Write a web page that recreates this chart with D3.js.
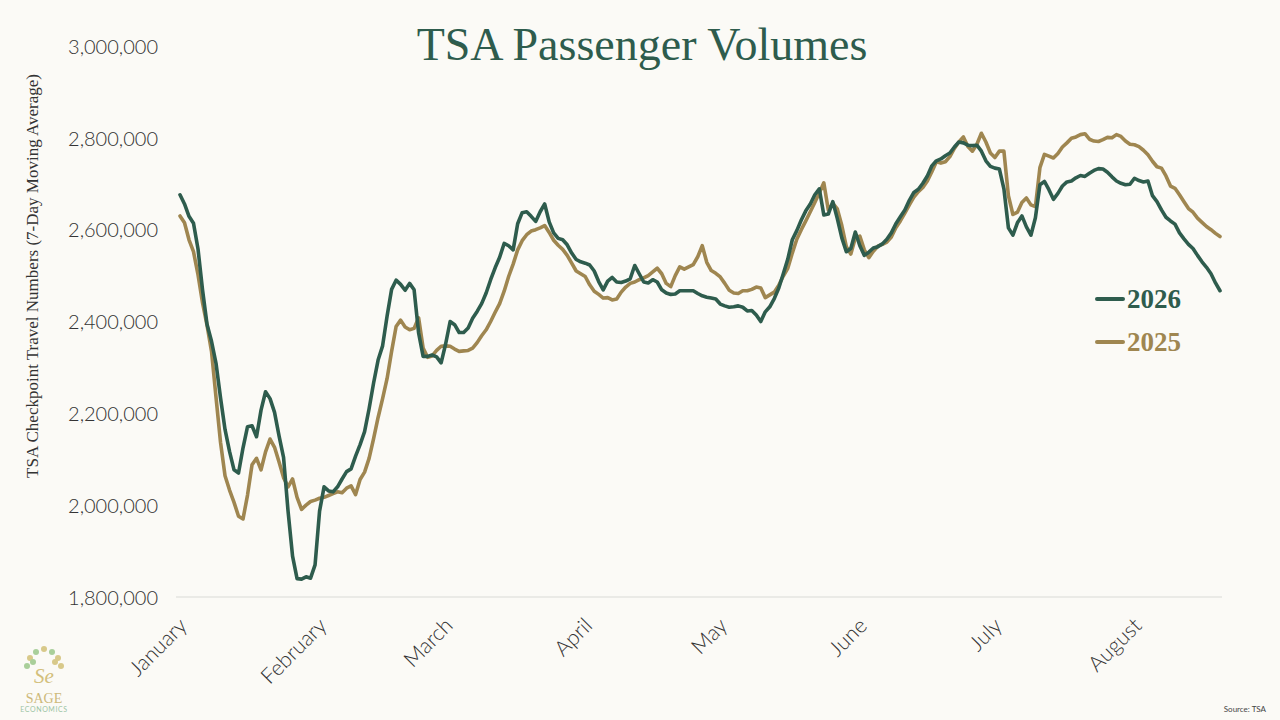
<!DOCTYPE html>
<html>
<head>
<meta charset="utf-8">
<script src="https://cdn.jsdelivr.net/npm/d3@7"></script>
<style>
  html, body { margin: 0; padding: 0; background: #fbfaf6; }
  svg { display: block; }
</style>
</head>
<body>
<div id="chart"></div>
<script>
// Daily 7-day moving averages, in thousands of passengers, starting Jan 1
const startDate = new Date(2026, 0, 1);

const tsa2026 = [
  2676, 2656, 2629, 2614, 2558, 2469, 2394, 2357, 2309, 2234,
  2165, 2117, 2077, 2070, 2125, 2171, 2173, 2149, 2207, 2247,
  2232, 2202, 2151, 2104, 1987, 1889, 1840, 1839, 1844, 1841,
  1870, 1987, 2040, 2031, 2029, 2040, 2057, 2073, 2079, 2107,
  2132, 2160, 2210, 2266, 2316, 2347, 2412, 2470, 2490, 2481,
  2468, 2483, 2469, 2375, 2324, 2324, 2327, 2323, 2310, 2351,
  2400, 2393, 2376, 2376, 2386, 2407, 2422, 2439, 2462, 2491,
  2517, 2540, 2570, 2565, 2556, 2613, 2637, 2639, 2629, 2618,
  2639, 2656, 2617, 2593, 2581, 2578, 2567, 2549, 2535, 2530,
  2527, 2523, 2510, 2487, 2469, 2488, 2496, 2486, 2485, 2488,
  2493, 2522, 2504, 2486, 2484, 2491, 2486, 2469, 2462, 2459,
  2460, 2467, 2467, 2467, 2467, 2461, 2456, 2453, 2451, 2449,
  2438, 2434, 2431, 2432, 2434, 2431, 2423, 2424, 2414, 2400,
  2421, 2432, 2450, 2473, 2504, 2536, 2578, 2598, 2621, 2641,
  2656, 2676, 2689, 2632, 2634, 2661, 2624, 2582, 2552, 2559,
  2595, 2565, 2544, 2551, 2560, 2563, 2569, 2579, 2593, 2613,
  2628, 2643, 2664, 2681, 2688, 2701, 2717, 2739, 2750, 2754,
  2761, 2767, 2780, 2791, 2789, 2784, 2783, 2784, 2771, 2750,
  2738, 2734, 2732, 2689, 2604, 2588, 2615, 2630, 2606, 2588,
  2626, 2698, 2705, 2687, 2666, 2679, 2695, 2704, 2706, 2713,
  2718, 2716, 2723, 2729, 2733, 2732, 2725, 2715, 2706, 2701,
  2698, 2699, 2712, 2707, 2704, 2706, 2674, 2661, 2643, 2627,
  2619, 2612, 2593, 2580, 2568, 2559, 2544, 2530, 2518, 2504,
  2484, 2467
];

const tsa2025 = [
  2630, 2615, 2578, 2552, 2502, 2441, 2392, 2335, 2235, 2137,
  2064, 2033, 2006, 1976, 1970, 2022, 2088, 2102, 2077, 2116,
  2144, 2126, 2094, 2060, 2040, 2057, 2017, 1991, 2000, 2008,
  2011, 2015, 2017, 2021, 2025, 2029, 2027, 2037, 2042, 2023,
  2056, 2072, 2102, 2145, 2191, 2232, 2276, 2335, 2389, 2403,
  2388, 2382, 2385, 2408, 2342, 2322, 2325, 2337, 2346, 2347,
  2346, 2340, 2335, 2336, 2337, 2342, 2354, 2369, 2382, 2400,
  2420, 2439, 2466, 2498, 2525, 2556, 2576, 2589, 2597, 2600,
  2604, 2609, 2594, 2577, 2566, 2557, 2544, 2527, 2510, 2504,
  2498, 2480, 2466, 2459, 2451, 2452, 2447, 2449, 2464, 2475,
  2483, 2486, 2491, 2495, 2500, 2508, 2516, 2504, 2483, 2476,
  2500, 2519, 2514, 2519, 2524, 2541, 2565, 2529, 2511, 2505,
  2497, 2483, 2468, 2462, 2461, 2467, 2467, 2470, 2475, 2473,
  2452, 2458, 2464, 2479, 2499, 2516, 2549, 2579, 2600, 2619,
  2639, 2659, 2680, 2702, 2643, 2657, 2645, 2609, 2563, 2547,
  2582, 2586, 2556, 2539, 2553, 2564, 2568, 2573, 2584, 2604,
  2619, 2636, 2654, 2671, 2683, 2692, 2706, 2726, 2748, 2745,
  2748, 2759, 2777, 2791, 2802, 2781, 2771, 2786, 2810, 2791,
  2767, 2757, 2771, 2771, 2674, 2633, 2638, 2659, 2669, 2654,
  2650, 2735, 2764, 2760, 2756, 2766, 2780, 2789, 2799, 2802,
  2807, 2809, 2797, 2793, 2792, 2796, 2801, 2800, 2807, 2803,
  2793, 2786, 2785, 2781, 2773, 2763, 2749, 2737, 2734, 2717,
  2695, 2690, 2676, 2661, 2646, 2638, 2625, 2616, 2607, 2600,
  2592, 2585
];

const monthLabels = ["January", "February", "March", "April", "May", "June", "July", "August"];
const yTicks = [1800000, 2000000, 2200000, 2400000, 2600000, 2800000, 3000000];

const seriesNames = ["2026", "2025"];
const seriesColors = ["#2e5c4d", "#9f8650"];

const width = 1280, height = 720;
const bg = "#fbfaf6";

const svg = d3.select("#chart").append("svg")
    .attr("width", width)
    .attr("height", height);

svg.append("rect").attr("width", width).attr("height", height).attr("fill", bg);

function toPoints(vals) {
    return vals.map((v, i) => ({
        date: d3.timeDay.offset(startDate, i),
        value: v * 1000
    }));
}
const series = [toPoints(tsa2026), toPoints(tsa2025)];

const lastDate = d3.timeDay.offset(startDate, tsa2026.length - 1);
const x = d3.scaleTime()
    .domain([startDate, lastDate])
    .range([180, 1220]);

const y = d3.scaleLinear()
    .domain([1800000, 3000000])
    .range([597, 46]);

// title
svg.append("text")
    .attr("x", 642)
    .attr("y", 60)
    .attr("text-anchor", "middle")
    .attr("font-family", "'Liberation Serif', 'DejaVu Serif', serif")
    .attr("font-size", 46)
    .attr("fill", "#2e5c4d")
    .text("TSA Passenger Volumes");

// y axis labels
const yAxis = d3.axisLeft(y)
    .tickValues(yTicks)
    .tickSize(0)
    .tickPadding(0)
    .tickFormat(d3.format(","));

const yg = svg.append("g")
    .attr("transform", "translate(158,0)")
    .call(yAxis);
yg.select(".domain").remove();
yg.selectAll("text")
    .attr("font-family", "Lato, 'Noto Sans', sans-serif")
    .attr("font-weight", 300)
    .attr("font-size", 20)
    .attr("fill", "#333")
    .attr("dy", "0.36em");

// y axis title
svg.append("text")
    .attr("transform", "translate(38,276) rotate(-90)")
    .attr("text-anchor", "middle")
    .attr("font-family", "'Liberation Serif', serif")
    .attr("font-size", 17)
    .attr("fill", "#333")
    .text("TSA Checkpoint Travel Numbers (7-Day Moving Average)");

// baseline
svg.append("line")
    .attr("x1", 176).attr("x2", 1222)
    .attr("y1", y(1800000)).attr("y2", y(1800000))
    .attr("stroke", "#d9d9d6")
    .attr("stroke-width", 1.2);

// x axis month labels
const monthStarts = monthLabels.map((m, i) => new Date(2026, i, 1));
const xAxis = d3.axisBottom(x)
    .tickValues(monthStarts)
    .tickSize(0)
    .tickFormat((d, i) => monthLabels[i]);

const xg = svg.append("g")
    .attr("transform", `translate(0,${y(1800000)})`)
    .call(xAxis);
xg.select(".domain").remove();
xg.selectAll("text")
    .attr("font-family", "Lato, 'Noto Sans', sans-serif")
    .attr("font-weight", 300)
    .attr("font-size", 21.5)
    .attr("fill", "#333")
    .attr("text-anchor", "end")
    .attr("dy", 0)
    .attr("y", 0)
    .attr("transform", "translate(8,30) rotate(-45)");

// lines, 2025 drawn first then 2026 on top
const line = d3.line()
    .x(d => x(d.date))
    .y(d => y(d.value));

[1, 0].forEach(i => {
    svg.append("path")
        .datum(series[i])
        .attr("fill", "none")
        .attr("stroke", seriesColors[i])
        .attr("stroke-width", 3.6)
        .attr("stroke-linejoin", "round")
        .attr("stroke-linecap", "round")
        .attr("d", line);
});

// legend
const legend = svg.append("g").attr("transform", "translate(1097,299)");
seriesNames.forEach((name, i) => {
    const g = legend.append("g").attr("transform", `translate(0,${i * 43})`);
    g.append("line")
        .attr("x1", 0).attr("x2", 26)
        .attr("stroke", seriesColors[i])
        .attr("stroke-width", 4)
        .attr("stroke-linecap", "round");
    g.append("text")
        .attr("x", 30)
        .attr("y", 9)
        .attr("font-family", "'Liberation Serif', serif")
        .attr("font-weight", "bold")
        .attr("font-size", 27)
        .attr("fill", seriesColors[i])
        .text(name);
});

// logo
const logo = svg.append("g").attr("transform", "translate(44,0)");
const leaves = [[-14, 658], [-8, 652], [0, 649], [8, 652], [14, 658], [-17, 666], [17, 666], [-11, 662], [11, 662]];
logo.selectAll("circle.leaf")
    .data(leaves)
    .join("circle")
    .attr("class", "leaf")
    .attr("cx", d => d[0])
    .attr("cy", d => d[1])
    .attr("r", 3)
    .attr("fill", (d, i) => i % 2 ? "#a9cf9a" : "#d8c98a");
logo.append("text")
    .attr("x", 0).attr("y", 683)
    .attr("text-anchor", "middle")
    .attr("font-family", "'Liberation Serif', serif")
    .attr("font-style", "italic")
    .attr("font-size", 21)
    .attr("fill", "#d3bf7c")
    .text("Se");
logo.append("text")
    .attr("x", 0).attr("y", 703)
    .attr("text-anchor", "middle")
    .attr("font-family", "'Liberation Serif', serif")
    .attr("font-size", 14)
    .attr("fill", "#cdb97a")
    .text("SAGE");
logo.append("text")
    .attr("x", 0).attr("y", 712)
    .attr("text-anchor", "middle")
    .attr("font-family", "Lato, sans-serif")
    .attr("font-size", 7)
    .attr("letter-spacing", 0.6)
    .attr("fill", "#9cc4a4")
    .text("ECONOMICS");

// source
svg.append("text")
    .attr("x", 1266)
    .attr("y", 712)
    .attr("text-anchor", "end")
    .attr("font-family", "Lato, sans-serif")
    .attr("font-size", 8)
    .attr("fill", "#444")
    .text("Source: TSA");
</script>
</body>
</html>
